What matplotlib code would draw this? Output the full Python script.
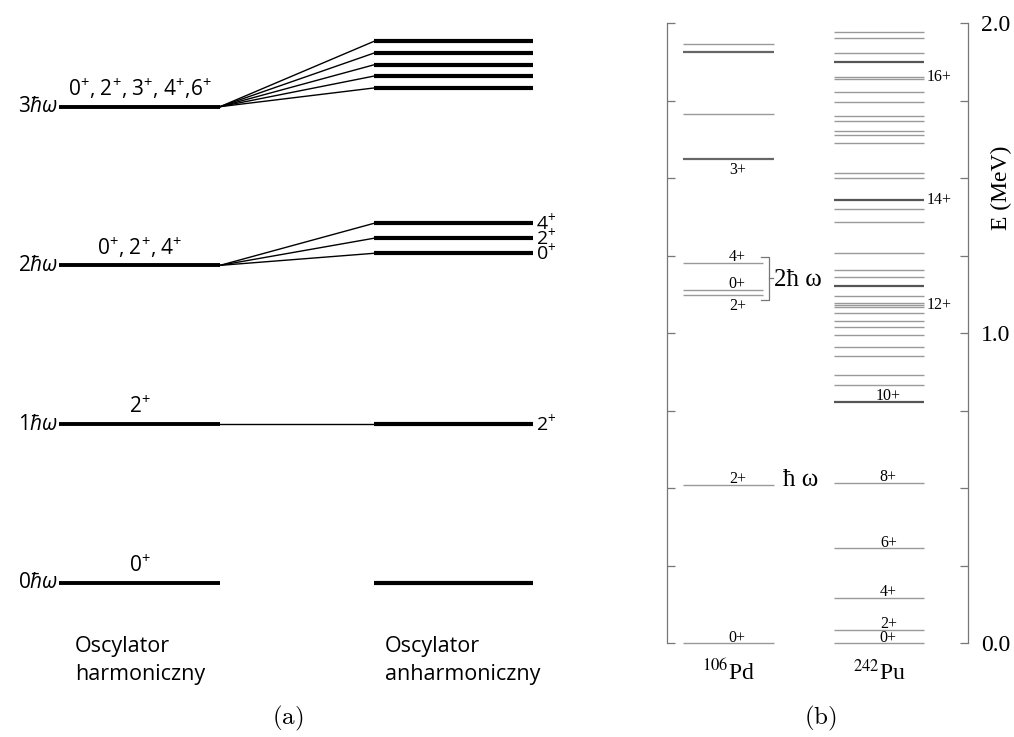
import matplotlib.pyplot as plt
from matplotlib.ticker import MultipleLocator

plt.rcParams['mathtext.fontset'] = 'custom'
plt.rcParams['mathtext.rm'] = 'Open Sans'
plt.rcParams['mathtext.it'] = 'Open Sans:italic'

# ---- (a) oscillator level scheme, energies in units of hbar*omega ----
phonons = [0, 1, 2, 3]
phonon_names = [r'0$\hbar\omega$', r'1$\hbar\omega$', r'2$\hbar\omega$', r'3$\hbar\omega$']
harm_spins = [r'0$^{+}$', r'2$^{+}$', r'0$^{+}$, 2$^{+}$, 4$^{+}$',
              r'0$^{+}$, 2$^{+}$, 3$^{+}$, 4$^{+}$,6$^{+}$']
anh_levels = [[0.0], [1.0], [2.076, 2.171, 2.265],
              [3.118, 3.193, 3.264, 3.338, 3.412]]
anh_spins = [[''], [r'2$^{+}$'], [r'0$^{+}$', r'2$^{+}$', r'4$^{+}$'],
             ['', '', '', '', '']]

# ---- (b) measured levels (MeV) ----
pd_levels = [0.0, 0.512, 1.124, 1.140, 1.228, 1.562, 1.707, 1.908, 1.934]
pd_strong = [1.562, 1.908]
pd_multiplet = [1.124, 1.140, 1.228]
pd_spins = ['0+', '2+', '2+', '0+', '4+', '3+', '', '', '']

pu_levels = [0.0, 0.043, 0.147, 0.306, 0.518, 0.779, 0.833, 0.865, 0.928,
             0.957, 0.994, 1.021, 1.040, 1.065, 1.086, 1.093, 1.099, 1.120,
             1.153, 1.182, 1.204, 1.260, 1.359, 1.402, 1.431, 1.502, 1.518,
             1.615, 1.640, 1.652, 1.684, 1.701, 1.746, 1.778, 1.819, 1.826,
             1.874, 1.905, 1.952, 1.971]
pu_strong = [0.779, 1.153, 1.431, 1.874]
pu_band = [0.0, 0.043, 0.147, 0.306, 0.518, 0.779]
pu_band_spins = ['0+', '2+', '4+', '6+', '8+', '10+']
pu_side = [1.093, 1.431, 1.826]
pu_side_spins = ['12+', '14+', '16+']

fig = plt.figure(figsize=(10.14, 7.37), dpi=100)

# ---------------- panel (a) ----------------
ax1 = fig.add_axes([0, 0, 600 / 1014, 1])
ax1.set_xlim(0, 600)
ax1.set_ylim(-0.9725, 3.6724)
ax1.axis('off')

hx0, hx1 = 59, 220
ax0, ax1x = 374, 533
sans = 'Open Sans'

for n, name, spin, levs, spins in zip(phonons, phonon_names, harm_spins,
                                      anh_levels, anh_spins):
    ax1.hlines(n, hx0, hx1, color='black', lw=2.8)
    ax1.text(hx0 - 1, n, name, ha='right', va='center', fontsize=15, family=sans)
    ax1.text((hx0 + hx1) / 2, n + 0.035, spin, ha='center', va='bottom',
             fontsize=15, family=sans)
    for e, s in zip(levs, spins):
        ax1.hlines(e, ax0, ax1x, color='black', lw=3.0)
        if n > 0:
            ax1.plot([hx1, ax0], [n, e], color='black', lw=1.0)
        if s:
            ax1.text(ax1x + 3, e, s, ha='left', va='center', fontsize=14,
                     family=sans)

ax1.text(75, -0.49, 'Oscylator\nharmoniczny', ha='left', va='center',
         fontsize=15.5, family=sans, linespacing=1.45)
ax1.text(385, -0.49, 'Oscylator\nanharmoniczny', ha='left', va='center',
         fontsize=15.5, family=sans, linespacing=1.45)

# ---------------- panel (b) ----------------
serif = 'Liberation Serif'
ax2 = fig.add_axes([0.6575, 0.1271, 0.2974, 0.8412])
ax2.set_xlim(0, 1)
ax2.set_ylim(0, 2.0)
for side in ('top', 'bottom'):
    ax2.spines[side].set_visible(False)
for side in ('left', 'right'):
    ax2.spines[side].set_color('#777777')
    ax2.spines[side].set_linewidth(0.9)
ax2.set_xticks([])
ax2.yaxis.set_major_locator(MultipleLocator(1.0))
ax2.yaxis.set_minor_locator(MultipleLocator(0.25))
ax2.yaxis.set_major_formatter('{x:.1f}')
ax2.tick_params(axis='y', which='both', direction='in', left=True, right=True,
                labelleft=False, labelright=True, length=6, width=0.9,
                color='#777777', pad=9)
for lab in ax2.get_yticklabels():
    lab.set_family(serif)
    lab.set_fontsize(17)
ax2.text(1.11, 1.47, 'E (MeV)', rotation=90, ha='center', va='center',
         transform=ax2.get_yaxis_transform(), family=serif, fontsize=17)

# 106Pd
pd_x0, pd_x1, pd_xs = 0.055, 0.356, 0.320
pd_lab = 0.234
for e, s in zip(pd_levels, pd_spins):
    x1 = pd_xs if e in pd_multiplet else pd_x1
    strong = e in pd_strong
    ax2.hlines(e, pd_x0, x1, color='#666666' if strong else '#999999',
               lw=1.6 if strong else 1.0, clip_on=False)
    if s:
        below = s in ('3+',) or e == 1.124
        ax2.text(pd_lab, e - 0.010 if below else e - 0.008, s,
                 ha='center', va='top' if below else 'bottom',
                 family=serif, fontsize=11.5)

# bracket round the two-phonon multiplet
b0, b1 = 1.107, 1.247
ax2.plot([0.312, 0.340, 0.340, 0.312], [b1, b1, b0, b0],
         color='#777777', lw=0.9)
mid = (b0 + b1) / 2
ax2.plot([0.340, 0.352], [mid, mid], color='#777777', lw=0.9)
ax2.text(0.356, mid - 0.005, '2ħ ω', ha='left', va='center', family=serif,
         fontsize=18)
ax2.text(0.445, pd_levels[1] + 0.015, 'ħ ω', ha='center', va='center',
         family=serif, fontsize=18)

# 242Pu
pu_x0, pu_x1 = 0.555, 0.853
for e in pu_levels:
    strong = e in pu_strong
    ax2.hlines(e, pu_x0, pu_x1, color='#555555' if strong else '#999999',
               lw=1.6 if strong else 1.0, clip_on=False)
for e, s in zip(pu_band, pu_band_spins):
    ax2.text(0.735, e - 0.008, s, ha='center', va='bottom', family=serif,
             fontsize=11.5)
for e, s in zip(pu_side, pu_side_spins):
    ax2.text(0.862, e, s, ha='left', va='center', family=serif, fontsize=11.5)

ax2.text(0.205, -0.095, r'$^{106}$Pd', ha='center', va='center', family=serif,
         fontsize=17, math_fontfamily='stix', clip_on=False)
ax2.text(0.705, -0.095, r'$^{242}$Pu', ha='center', va='center', family=serif,
         fontsize=17, math_fontfamily='stix', clip_on=False)

fig.text(288 / 1014, 1 - 718 / 737, r'$\mathrm{(a)}$', ha='center',
         va='center', fontsize=18, math_fontfamily='cm')
fig.text(820 / 1014, 1 - 718 / 737, r'$\mathrm{(b)}$', ha='center',
         va='center', fontsize=18, math_fontfamily='cm')

fig.savefig('out.png', dpi=100)
